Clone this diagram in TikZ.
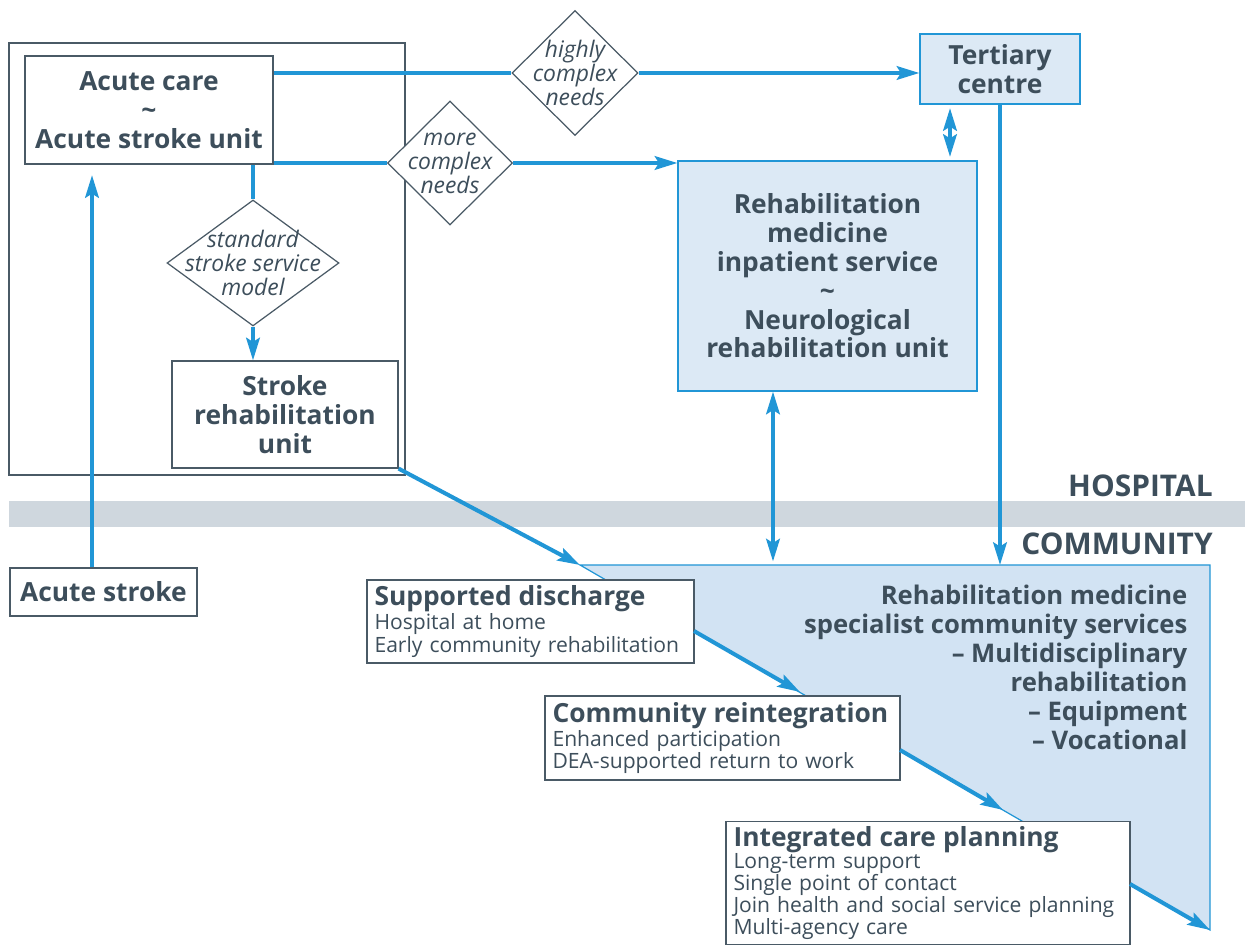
\documentclass[tikz,border=0pt]{standalone}
\usepackage{fontspec}
\setmainfont{Open Sans}
\usetikzlibrary{arrows.meta,shapes.geometric}
\definecolor{ink}{HTML}{3D4E5B}
\definecolor{edge}{HTML}{4A5A66}
\definecolor{flowblue}{HTML}{2196D6}
\definecolor{paleblue}{HTML}{DCE9F5}
\definecolor{commblue}{HTML}{D2E3F3}
\definecolor{bandgrey}{HTML}{CFD7DE}

\begin{document}
\begin{tikzpicture}[x=0.02cm,y=-0.02cm,
    box/.style={draw=edge,line width=0.7pt,fill=white,inner sep=0pt,
      align=center,text=ink,font=\fontsize{15}{16.4}\selectfont\bfseries},
    bluebox/.style={box,draw=flowblue,fill=paleblue},
    choice/.style={shape=diamond,draw=edge,line width=0.7pt,fill=white,inner sep=0pt},
    choicetext/.style={align=center,text=ink,inner sep=0pt,
      font=\fontsize{13}{13.6}\selectfont\itshape},
    listbox/.style={draw=edge,line width=0.7pt,fill=white,inner xsep=0.15cm,
      inner ysep=0.1cm,align=left,text=ink,
      font=\fontsize{12}{12.6}\selectfont},
    title/.style={font=\fontsize{15}{17}\selectfont\bfseries},
    zone/.style={text=ink,inner sep=0pt,font=\fontsize{17}{18}\selectfont\bfseries},
    flow/.style={draw=flowblue,line width=2.3pt,->},
    >={Stealth[length=0.45cm,width=0.27cm,inset=0.08cm]}]
  \useasboundingbox (0,0) rectangle (1245,945);

  % hospital / community divide
  \fill[bandgrey] (9,501) rectangle (1245,527);
  \coordinate (c1) at (580,565);
  \coordinate (c2) at (1210,565);
  \coordinate (c3) at (1210,930);
  \filldraw[fill=commblue,draw=flowblue,line width=0.7pt] (c1) -- (c2) -- (c3) -- cycle;
  \draw[edge,line width=0.7pt] (9,43) rectangle (405,475);

  \node[box,minimum width=4.96cm,minimum height=2.16cm] (acute) at (149,110)
    {Acute care\\\textasciitilde\\Acute stroke unit};
  \node[choice,minimum width=3.44cm,minimum height=2.52cm,
    label={[choicetext]center:standard\\stroke service\\model}] (std) at (253,263) {};
  \node[box,minimum width=4.52cm,minimum height=2.14cm] (sru) at (285,414.5)
    {Stroke\\rehabilitation\\unit};
  \node[box,minimum width=3.74cm,minimum height=0.96cm] (stroke) at (103.5,592)
    {Acute stroke};
  \node[choice,minimum width=2.52cm,minimum height=2.5cm,
    label={[choicetext]center:highly\\complex\\needs}] (high) at (575,73) {};
  \node[choice,minimum width=2.5cm,minimum height=2.48cm,
    label={[choicetext]center:more\\complex\\needs}] (more) at (450,163) {};
  \node[bluebox,minimum width=3.2cm,minimum height=1.4cm] (tert) at (1000,69)
    {Tertiary\\centre};
  \node[bluebox,minimum width=5.98cm,minimum height=4.6cm] (rehab) at (827.5,276)
    {Rehabilitation\\medicine\\inpatient service\\\textasciitilde\\Neurological\\rehabilitation unit};

  \node[zone,anchor=east] (hosp) at (1213,486) {HOSPITAL};
  \node[zone,anchor=east] (comm) at (1213,544) {COMMUNITY};
  \node[box,fill=none,draw=none,align=right,anchor=north east,
    font=\fontsize{14.6}{16.6}\selectfont\bfseries] (rmc) at (1188,584)
    {Rehabilitation medicine\\specialist community services\\-- Multidisciplinary\\rehabilitation\\-- Equipment\\-- Vocational};

  \node[listbox,minimum width=6.54cm,minimum height=1.66cm,text width=6.24cm] (sd) at (530.5,621.5)
    {\textbf{\fontsize{15}{17}\selectfont Supported discharge}\\Hospital at home\\Early community rehabilitation};
  \node[listbox,minimum width=7.1cm,minimum height=1.68cm,text width=6.8cm] (cr) at (722.5,738)
    {\textbf{\fontsize{15}{17}\selectfont Community reintegration}\\Enhanced participation\\DEA-supported return to work};
  \node[listbox,minimum width=8.08cm,minimum height=2.44cm,text width=7.78cm] (icp) at (928,883)
    {\textbf{\fontsize{15}{17}\selectfont Integrated care planning}\\Long-term support\\Single point of contact\\Join health and social service planning\\Multi-agency care};

  \coordinate (s1) at (694,631);
  \coordinate (s2) at (800,692);
  \coordinate (s3) at (900,750);
  \coordinate (s4) at (1003,810);
  \coordinate (s5) at (1130,884);
  \coordinate (up) at (92,0);
  \coordinate (tr) at (950,0);
  \coordinate (rc) at (773,565);

  \draw[flow,-] (acute.east |- high) -- (high.west);
  \draw[flow] (high.east) -- (tert.west |- high);
  \draw[flow,-] (acute.east |- more) -- (more.west);
  \draw[flow] (more.east) -- (rehab.west |- more);
  \draw[flow,-] (acute.south -| std) -- (std.north);
  \draw[flow] (std.south) -- (std.south |- sru.north);
  \draw[flow] (stroke.north -| up) -- ([yshift=-6pt]acute.south -| up);
  \draw[flow,<->,shorten <=2pt,shorten >=2pt] (tert.south -| tr) -- (rehab.north -| tr);
  \draw[flow,<->,shorten >=2pt] (rehab.south -| rc) -- (rc);
  \draw[flow] (tert.south) -- (tert.south |- c2);
  \draw[flow] (sru.south east) -- (c1);
  \draw[flow] (s1) -- (s2);
  \draw[flow] (s3) -- (s4);
  \draw[flow] (s5) -- (c3);
\end{tikzpicture}
\end{document}
